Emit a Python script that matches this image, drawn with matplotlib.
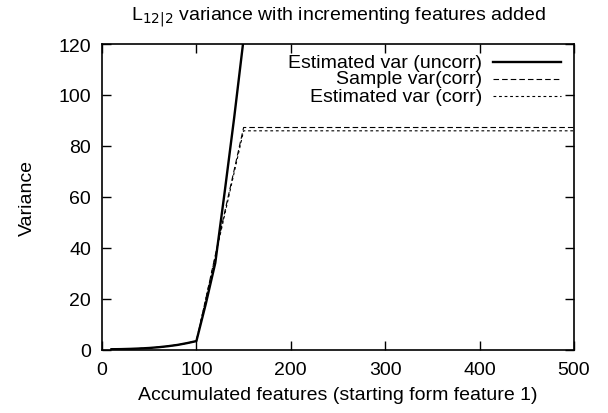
import matplotlib
matplotlib.use("Agg")
import matplotlib.pyplot as plt
from matplotlib.lines import Line2D

plt.rcParams['font.family'] = ['Liberation Sans', 'DejaVu Sans']
plt.rcParams['lines.scale_dashes'] = False

features = [10, 20, 30, 40, 50, 60, 70, 80, 90, 100, 110, 120, 130, 140, 150,
            200, 250, 300, 350, 400, 450, 500]
est_uncorr = [0.1, 0.15, 0.25, 0.4, 0.6, 0.9, 1.3, 1.8, 2.5, 3.3, 18, 34, 62, 91, 122,
              300, 500, 700, 900, 1100, 1300, 1500]
sample_corr = [0.1, 0.15, 0.25, 0.4, 0.6, 0.9, 1.3, 1.8, 2.5, 3.3, 20, 37, 54, 70.5, 87.2,
               87.2, 87.2, 87.2, 87.2, 87.2, 87.2, 87.2]
est_corr = [0.1, 0.15, 0.25, 0.4, 0.6, 0.9, 1.3, 1.8, 2.5, 3.3, 20, 36.5, 53, 69.5, 85.9,
            85.9, 85.9, 85.9, 85.9, 85.9, 85.9, 85.9]
labels = ['Estimated var (uncorr)', 'Sample var(corr)', 'Estimated var (corr)']
xticks = [0, 100, 200, 300, 400, 500]
yticks = [0, 20, 40, 60, 80, 100, 120]

FS = 14
fig = plt.figure(figsize=(6.08, 4.14), dpi=100)
ax = fig.add_axes([102/608, 1-350.5/414, (574-102)/608, (350.5-45)/414])

styles = [dict(color='black', lw=1.7, linestyle='-'),
          dict(color='black', lw=0.8, linestyle=(0, (4.0, 2.2))),
          dict(color='black', lw=0.8, linestyle=(0, (2.0, 2.0)))]
series = [est_uncorr, sample_corr, est_corr]
for s, st in zip(series, styles):
    ax.plot(features, s, **st)

ax.set_xlim(0, 500)
ax.set_ylim(0, 120)
ax.set_xticks(xticks)
ax.set_yticks(yticks)
ax.tick_params(direction='in', length=6.5, width=1.0, top=True, right=True,
               labelsize=FS, color='black')
ax.tick_params(axis='x', pad=8)
ax.tick_params(axis='y', pad=8)
for sp in ax.spines.values():
    sp.set_linewidth(1.2)

ax.set_xlabel('Accumulated features (starting form feature 1)', fontsize=FS, labelpad=6)
ax.set_ylabel('Variance', fontsize=FS, labelpad=16)
fig.text((102 + 574) / 2 / 608, 1 - 20 / 414,
         'L$_{12|2}$ variance with incrementing features added',
         ha='center', va='baseline', fontsize=FS)

# gnuplot-style key: right-aligned text, sample lines to the right
ys = [(350.5 - y) / 305.5 for y in (63, 80, 97)]
for lab, st, y in zip(labels, styles, ys):
    ax.text((482 - 102) / 472, y, lab, transform=ax.transAxes, ha='right', va='center',
            fontsize=FS)
    ax.add_line(Line2D([(493 - 102) / 472, (561 - 102) / 472], [y, y],
                       transform=ax.transAxes, clip_on=False, **st))

fig.savefig('out.png', dpi=100)
